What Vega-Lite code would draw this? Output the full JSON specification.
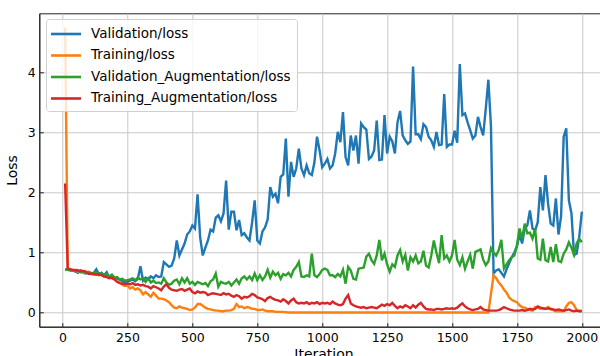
{
  "$schema": "https://vega.github.io/schema/vega-lite/v6.json",
  "autosize": "none",
  "padding": {"left": 39.3, "top": 13.3, "right": 0, "bottom": 40},
  "width": 568.4,
  "height": 313.4,
  "background": "white",
  "config": {
    "font": "DejaVu Sans",
    "view": {"stroke": "#222", "strokeWidth": 1},
    "axis": {
      "gridColor": "#c8c8c8", "gridWidth": 1, "gridOpacity": 1,
      "domainColor": "#222", "domainWidth": 1,
      "tickColor": "#222", "tickSize": -4, "tickWidth": 1,
      "labelColor": "#000", "labelFontSize": 12.5, "labelFont": "DejaVu Sans",
      "titleColor": "#000", "titleFontSize": 14, "titleFontWeight": "normal", "titleFont": "DejaVu Sans"
    }
  },
  "data": {"values": [
    {"it":10,"Validation/loss":0.72,"Training/loss":4.75,"Validation_Augmentation/loss":0.71,"Training_Augmentation/loss":2.15},
    {"it":20,"Validation/loss":0.71,"Training/loss":0.72,"Validation_Augmentation/loss":0.72,"Training_Augmentation/loss":0.73},
    {"it":30,"Validation/loss":0.70,"Training/loss":0.71,"Validation_Augmentation/loss":0.71,"Training_Augmentation/loss":0.72},
    {"it":40,"Validation/loss":0.70,"Training/loss":0.70,"Validation_Augmentation/loss":0.70,"Training_Augmentation/loss":0.71},
    {"it":50,"Validation/loss":0.68,"Training/loss":0.70,"Validation_Augmentation/loss":0.69,"Training_Augmentation/loss":0.71},
    {"it":60,"Validation/loss":0.66,"Training/loss":0.68,"Validation_Augmentation/loss":0.70,"Training_Augmentation/loss":0.70},
    {"it":70,"Validation/loss":0.70,"Training/loss":0.69,"Validation_Augmentation/loss":0.67,"Training_Augmentation/loss":0.69},
    {"it":80,"Validation/loss":0.66,"Training/loss":0.67,"Validation_Augmentation/loss":0.69,"Training_Augmentation/loss":0.69},
    {"it":90,"Validation/loss":0.65,"Training/loss":0.66,"Validation_Augmentation/loss":0.66,"Training_Augmentation/loss":0.68},
    {"it":100,"Validation/loss":0.67,"Training/loss":0.68,"Validation_Augmentation/loss":0.67,"Training_Augmentation/loss":0.64},
    {"it":110,"Validation/loss":0.64,"Training/loss":0.65,"Validation_Augmentation/loss":0.66,"Training_Augmentation/loss":0.65},
    {"it":120,"Validation/loss":0.66,"Training/loss":0.63,"Validation_Augmentation/loss":0.65,"Training_Augmentation/loss":0.64},
    {"it":130,"Validation/loss":0.72,"Training/loss":0.66,"Validation_Augmentation/loss":0.67,"Training_Augmentation/loss":0.63},
    {"it":140,"Validation/loss":0.64,"Training/loss":0.62,"Validation_Augmentation/loss":0.63,"Training_Augmentation/loss":0.64},
    {"it":150,"Validation/loss":0.66,"Training/loss":0.64,"Validation_Augmentation/loss":0.66,"Training_Augmentation/loss":0.62},
    {"it":160,"Validation/loss":0.62,"Training/loss":0.60,"Validation_Augmentation/loss":0.61,"Training_Augmentation/loss":0.60},
    {"it":170,"Validation/loss":0.67,"Training/loss":0.62,"Validation_Augmentation/loss":0.64,"Training_Augmentation/loss":0.59},
    {"it":180,"Validation/loss":0.58,"Training/loss":0.58,"Validation_Augmentation/loss":0.60,"Training_Augmentation/loss":0.57},
    {"it":190,"Validation/loss":0.60,"Training/loss":0.57,"Validation_Augmentation/loss":0.63,"Training_Augmentation/loss":0.58},
    {"it":200,"Validation/loss":0.57,"Training/loss":0.55,"Validation_Augmentation/loss":0.58,"Training_Augmentation/loss":0.55},
    {"it":210,"Validation/loss":0.56,"Training/loss":0.52,"Validation_Augmentation/loss":0.59,"Training_Augmentation/loss":0.51},
    {"it":220,"Validation/loss":0.55,"Training/loss":0.50,"Validation_Augmentation/loss":0.55,"Training_Augmentation/loss":0.49},
    {"it":230,"Validation/loss":0.52,"Training/loss":0.46,"Validation_Augmentation/loss":0.56,"Training_Augmentation/loss":0.48},
    {"it":240,"Validation/loss":0.50,"Training/loss":0.44,"Validation_Augmentation/loss":0.53,"Training_Augmentation/loss":0.47},
    {"it":250,"Validation/loss":0.51,"Training/loss":0.45,"Validation_Augmentation/loss":0.54,"Training_Augmentation/loss":0.48},
    {"it":260,"Validation/loss":0.53,"Training/loss":0.40,"Validation_Augmentation/loss":0.55,"Training_Augmentation/loss":0.47},
    {"it":270,"Validation/loss":0.55,"Training/loss":0.42,"Validation_Augmentation/loss":0.57,"Training_Augmentation/loss":0.49},
    {"it":280,"Validation/loss":0.52,"Training/loss":0.38,"Validation_Augmentation/loss":0.54,"Training_Augmentation/loss":0.46},
    {"it":290,"Validation/loss":0.56,"Training/loss":0.40,"Validation_Augmentation/loss":0.58,"Training_Augmentation/loss":0.47},
    {"it":300,"Validation/loss":0.77,"Training/loss":0.37,"Validation_Augmentation/loss":0.55,"Training_Augmentation/loss":0.45},
    {"it":310,"Validation/loss":0.53,"Training/loss":0.30,"Validation_Augmentation/loss":0.57,"Training_Augmentation/loss":0.46},
    {"it":320,"Validation/loss":0.58,"Training/loss":0.34,"Validation_Augmentation/loss":0.51,"Training_Augmentation/loss":0.44},
    {"it":330,"Validation/loss":0.55,"Training/loss":0.30,"Validation_Augmentation/loss":0.57,"Training_Augmentation/loss":0.43},
    {"it":340,"Validation/loss":0.60,"Training/loss":0.26,"Validation_Augmentation/loss":0.50,"Training_Augmentation/loss":0.40},
    {"it":350,"Validation/loss":0.57,"Training/loss":0.33,"Validation_Augmentation/loss":0.53,"Training_Augmentation/loss":0.44},
    {"it":360,"Validation/loss":0.62,"Training/loss":0.28,"Validation_Augmentation/loss":0.49,"Training_Augmentation/loss":0.42},
    {"it":370,"Validation/loss":0.59,"Training/loss":0.23,"Validation_Augmentation/loss":0.50,"Training_Augmentation/loss":0.40},
    {"it":380,"Validation/loss":0.60,"Training/loss":0.23,"Validation_Augmentation/loss":0.48,"Training_Augmentation/loss":0.37},
    {"it":390,"Validation/loss":0.84,"Training/loss":0.22,"Validation_Augmentation/loss":0.57,"Training_Augmentation/loss":0.43},
    {"it":400,"Validation/loss":0.80,"Training/loss":0.20,"Validation_Augmentation/loss":0.50,"Training_Augmentation/loss":0.47},
    {"it":410,"Validation/loss":0.76,"Training/loss":0.17,"Validation_Augmentation/loss":0.46,"Training_Augmentation/loss":0.41},
    {"it":420,"Validation/loss":0.78,"Training/loss":0.12,"Validation_Augmentation/loss":0.48,"Training_Augmentation/loss":0.38},
    {"it":430,"Validation/loss":0.90,"Training/loss":0.08,"Validation_Augmentation/loss":0.53,"Training_Augmentation/loss":0.37},
    {"it":440,"Validation/loss":1.20,"Training/loss":0.07,"Validation_Augmentation/loss":0.55,"Training_Augmentation/loss":0.36},
    {"it":450,"Validation/loss":0.95,"Training/loss":0.10,"Validation_Augmentation/loss":0.47,"Training_Augmentation/loss":0.38},
    {"it":460,"Validation/loss":1.05,"Training/loss":0.08,"Validation_Augmentation/loss":0.57,"Training_Augmentation/loss":0.39},
    {"it":470,"Validation/loss":1.15,"Training/loss":0.07,"Validation_Augmentation/loss":0.50,"Training_Augmentation/loss":0.36},
    {"it":480,"Validation/loss":1.30,"Training/loss":0.06,"Validation_Augmentation/loss":0.57,"Training_Augmentation/loss":0.38},
    {"it":490,"Validation/loss":1.35,"Training/loss":0.04,"Validation_Augmentation/loss":0.48,"Training_Augmentation/loss":0.40},
    {"it":500,"Validation/loss":1.45,"Training/loss":0.05,"Validation_Augmentation/loss":0.51,"Training_Augmentation/loss":0.34},
    {"it":510,"Validation/loss":1.40,"Training/loss":0.08,"Validation_Augmentation/loss":0.46,"Training_Augmentation/loss":0.32},
    {"it":520,"Validation/loss":1.97,"Training/loss":0.14,"Validation_Augmentation/loss":0.51,"Training_Augmentation/loss":0.35},
    {"it":530,"Validation/loss":1.25,"Training/loss":0.14,"Validation_Augmentation/loss":0.49,"Training_Augmentation/loss":0.33},
    {"it":540,"Validation/loss":0.95,"Training/loss":0.11,"Validation_Augmentation/loss":0.47,"Training_Augmentation/loss":0.34},
    {"it":550,"Validation/loss":1.08,"Training/loss":0.08,"Validation_Augmentation/loss":0.49,"Training_Augmentation/loss":0.33},
    {"it":560,"Validation/loss":1.20,"Training/loss":0.06,"Validation_Augmentation/loss":0.44,"Training_Augmentation/loss":0.29},
    {"it":570,"Validation/loss":1.38,"Training/loss":0.05,"Validation_Augmentation/loss":0.52,"Training_Augmentation/loss":0.31},
    {"it":580,"Validation/loss":1.35,"Training/loss":0.04,"Validation_Augmentation/loss":0.55,"Training_Augmentation/loss":0.32},
    {"it":590,"Validation/loss":1.58,"Training/loss":0.03,"Validation_Augmentation/loss":0.65,"Training_Augmentation/loss":0.31},
    {"it":600,"Validation/loss":1.62,"Training/loss":0.03,"Validation_Augmentation/loss":0.43,"Training_Augmentation/loss":0.30},
    {"it":610,"Validation/loss":1.52,"Training/loss":0.02,"Validation_Augmentation/loss":0.51,"Training_Augmentation/loss":0.29},
    {"it":620,"Validation/loss":1.65,"Training/loss":0.02,"Validation_Augmentation/loss":0.49,"Training_Augmentation/loss":0.32},
    {"it":630,"Validation/loss":2.20,"Training/loss":0.03,"Validation_Augmentation/loss":0.48,"Training_Augmentation/loss":0.30},
    {"it":640,"Validation/loss":1.38,"Training/loss":0.03,"Validation_Augmentation/loss":0.51,"Training_Augmentation/loss":0.31},
    {"it":650,"Validation/loss":1.68,"Training/loss":0.04,"Validation_Augmentation/loss":0.45,"Training_Augmentation/loss":0.28},
    {"it":660,"Validation/loss":1.68,"Training/loss":0.06,"Validation_Augmentation/loss":0.50,"Training_Augmentation/loss":0.26},
    {"it":670,"Validation/loss":1.37,"Training/loss":0.14,"Validation_Augmentation/loss":0.55,"Training_Augmentation/loss":0.29},
    {"it":680,"Validation/loss":1.54,"Training/loss":0.09,"Validation_Augmentation/loss":0.48,"Training_Augmentation/loss":0.27},
    {"it":690,"Validation/loss":1.29,"Training/loss":0.10,"Validation_Augmentation/loss":0.57,"Training_Augmentation/loss":0.23},
    {"it":700,"Validation/loss":1.32,"Training/loss":0.07,"Validation_Augmentation/loss":0.60,"Training_Augmentation/loss":0.26},
    {"it":710,"Validation/loss":1.25,"Training/loss":0.09,"Validation_Augmentation/loss":0.55,"Training_Augmentation/loss":0.25},
    {"it":720,"Validation/loss":1.20,"Training/loss":0.08,"Validation_Augmentation/loss":0.60,"Training_Augmentation/loss":0.27},
    {"it":730,"Validation/loss":1.50,"Training/loss":0.06,"Validation_Augmentation/loss":0.54,"Training_Augmentation/loss":0.31},
    {"it":740,"Validation/loss":1.87,"Training/loss":0.06,"Validation_Augmentation/loss":0.65,"Training_Augmentation/loss":0.29},
    {"it":750,"Validation/loss":1.20,"Training/loss":0.04,"Validation_Augmentation/loss":0.54,"Training_Augmentation/loss":0.25},
    {"it":760,"Validation/loss":1.15,"Training/loss":0.04,"Validation_Augmentation/loss":0.62,"Training_Augmentation/loss":0.24},
    {"it":770,"Validation/loss":1.35,"Training/loss":0.05,"Validation_Augmentation/loss":0.54,"Training_Augmentation/loss":0.22},
    {"it":780,"Validation/loss":1.42,"Training/loss":0.03,"Validation_Augmentation/loss":0.60,"Training_Augmentation/loss":0.19},
    {"it":790,"Validation/loss":1.55,"Training/loss":0.02,"Validation_Augmentation/loss":0.71,"Training_Augmentation/loss":0.24},
    {"it":800,"Validation/loss":2.09,"Training/loss":0.02,"Validation_Augmentation/loss":0.58,"Training_Augmentation/loss":0.26},
    {"it":810,"Validation/loss":1.93,"Training/loss":0.02,"Validation_Augmentation/loss":0.68,"Training_Augmentation/loss":0.23},
    {"it":820,"Validation/loss":1.98,"Training/loss":0.01,"Validation_Augmentation/loss":0.62,"Training_Augmentation/loss":0.21},
    {"it":830,"Validation/loss":1.82,"Training/loss":0.01,"Validation_Augmentation/loss":0.66,"Training_Augmentation/loss":0.20},
    {"it":840,"Validation/loss":2.26,"Training/loss":0.01,"Validation_Augmentation/loss":0.56,"Training_Augmentation/loss":0.18},
    {"it":850,"Validation/loss":2.30,"Training/loss":0.01,"Validation_Augmentation/loss":0.64,"Training_Augmentation/loss":0.22},
    {"it":860,"Validation/loss":2.90,"Training/loss":0.005,"Validation_Augmentation/loss":0.62,"Training_Augmentation/loss":0.19},
    {"it":870,"Validation/loss":1.93,"Training/loss":0.0,"Validation_Augmentation/loss":0.66,"Training_Augmentation/loss":0.15},
    {"it":880,"Validation/loss":2.51,"Training/loss":0.0,"Validation_Augmentation/loss":0.60,"Training_Augmentation/loss":0.20},
    {"it":890,"Validation/loss":2.26,"Training/loss":0.0,"Validation_Augmentation/loss":0.71,"Training_Augmentation/loss":0.23},
    {"it":900,"Validation/loss":2.40,"Training/loss":0.0,"Validation_Augmentation/loss":0.76,"Training_Augmentation/loss":0.17},
    {"it":910,"Validation/loss":2.73,"Training/loss":0.0,"Validation_Augmentation/loss":0.84,"Training_Augmentation/loss":0.15},
    {"it":920,"Validation/loss":2.40,"Training/loss":0.0,"Validation_Augmentation/loss":0.60,"Training_Augmentation/loss":0.16},
    {"it":930,"Validation/loss":2.29,"Training/loss":0.0,"Validation_Augmentation/loss":0.59,"Training_Augmentation/loss":0.15},
    {"it":940,"Validation/loss":2.45,"Training/loss":0.0,"Validation_Augmentation/loss":0.62,"Training_Augmentation/loss":0.17},
    {"it":950,"Validation/loss":2.32,"Training/loss":0.0,"Validation_Augmentation/loss":0.60,"Training_Augmentation/loss":0.14},
    {"it":960,"Validation/loss":2.29,"Training/loss":0.0,"Validation_Augmentation/loss":0.98,"Training_Augmentation/loss":0.16},
    {"it":970,"Validation/loss":2.50,"Training/loss":0.0,"Validation_Augmentation/loss":0.62,"Training_Augmentation/loss":0.15},
    {"it":980,"Validation/loss":2.93,"Training/loss":0.0,"Validation_Augmentation/loss":0.59,"Training_Augmentation/loss":0.17},
    {"it":990,"Validation/loss":2.70,"Training/loss":0.0,"Validation_Augmentation/loss":0.64,"Training_Augmentation/loss":0.14},
    {"it":1000,"Validation/loss":2.42,"Training/loss":0.0,"Validation_Augmentation/loss":0.71,"Training_Augmentation/loss":0.16},
    {"it":1010,"Validation/loss":2.48,"Training/loss":0.0,"Validation_Augmentation/loss":0.73,"Training_Augmentation/loss":0.15},
    {"it":1020,"Validation/loss":2.56,"Training/loss":0.0,"Validation_Augmentation/loss":0.71,"Training_Augmentation/loss":0.16},
    {"it":1030,"Validation/loss":2.40,"Training/loss":0.0,"Validation_Augmentation/loss":0.62,"Training_Augmentation/loss":0.14},
    {"it":1040,"Validation/loss":2.45,"Training/loss":0.0,"Validation_Augmentation/loss":0.62,"Training_Augmentation/loss":0.18},
    {"it":1050,"Validation/loss":2.65,"Training/loss":0.0,"Validation_Augmentation/loss":0.59,"Training_Augmentation/loss":0.15},
    {"it":1060,"Validation/loss":3.01,"Training/loss":0.0,"Validation_Augmentation/loss":0.64,"Training_Augmentation/loss":0.13},
    {"it":1070,"Validation/loss":2.84,"Training/loss":0.0,"Validation_Augmentation/loss":0.60,"Training_Augmentation/loss":0.12},
    {"it":1080,"Validation/loss":3.34,"Training/loss":0.0,"Validation_Augmentation/loss":0.71,"Training_Augmentation/loss":0.14},
    {"it":1090,"Validation/loss":2.59,"Training/loss":0.0,"Validation_Augmentation/loss":0.48,"Training_Augmentation/loss":0.23},
    {"it":1100,"Validation/loss":2.45,"Training/loss":0.0,"Validation_Augmentation/loss":0.76,"Training_Augmentation/loss":0.29},
    {"it":1110,"Validation/loss":2.95,"Training/loss":0.0,"Validation_Augmentation/loss":0.70,"Training_Augmentation/loss":0.15},
    {"it":1120,"Validation/loss":2.70,"Training/loss":0.0,"Validation_Augmentation/loss":0.56,"Training_Augmentation/loss":0.12},
    {"it":1130,"Validation/loss":2.95,"Training/loss":0.0,"Validation_Augmentation/loss":0.55,"Training_Augmentation/loss":0.10},
    {"it":1140,"Validation/loss":2.48,"Training/loss":0.0,"Validation_Augmentation/loss":0.73,"Training_Augmentation/loss":0.09},
    {"it":1150,"Validation/loss":3.15,"Training/loss":0.0,"Validation_Augmentation/loss":0.74,"Training_Augmentation/loss":0.08},
    {"it":1160,"Validation/loss":3.09,"Training/loss":0.0,"Validation_Augmentation/loss":0.75,"Training_Augmentation/loss":0.09},
    {"it":1170,"Validation/loss":3.05,"Training/loss":0.0,"Validation_Augmentation/loss":0.93,"Training_Augmentation/loss":0.07},
    {"it":1180,"Validation/loss":2.56,"Training/loss":0.0,"Validation_Augmentation/loss":0.98,"Training_Augmentation/loss":0.08},
    {"it":1190,"Validation/loss":2.60,"Training/loss":0.0,"Validation_Augmentation/loss":0.87,"Training_Augmentation/loss":0.09},
    {"it":1200,"Validation/loss":2.70,"Training/loss":0.0,"Validation_Augmentation/loss":0.81,"Training_Augmentation/loss":0.08},
    {"it":1210,"Validation/loss":3.20,"Training/loss":0.0,"Validation_Augmentation/loss":0.95,"Training_Augmentation/loss":0.07},
    {"it":1220,"Validation/loss":2.54,"Training/loss":0.0,"Validation_Augmentation/loss":1.21,"Training_Augmentation/loss":0.10},
    {"it":1230,"Validation/loss":2.55,"Training/loss":0.0,"Validation_Augmentation/loss":0.87,"Training_Augmentation/loss":0.13},
    {"it":1240,"Validation/loss":3.29,"Training/loss":0.0,"Validation_Augmentation/loss":0.98,"Training_Augmentation/loss":0.11},
    {"it":1250,"Validation/loss":2.65,"Training/loss":0.0,"Validation_Augmentation/loss":0.80,"Training_Augmentation/loss":0.14},
    {"it":1260,"Validation/loss":2.93,"Training/loss":0.0,"Validation_Augmentation/loss":0.68,"Training_Augmentation/loss":0.12},
    {"it":1270,"Validation/loss":2.85,"Training/loss":0.0,"Validation_Augmentation/loss":0.80,"Training_Augmentation/loss":0.16},
    {"it":1280,"Validation/loss":2.65,"Training/loss":0.0,"Validation_Augmentation/loss":0.76,"Training_Augmentation/loss":0.11},
    {"it":1290,"Validation/loss":3.17,"Training/loss":0.0,"Validation_Augmentation/loss":0.95,"Training_Augmentation/loss":0.07},
    {"it":1300,"Validation/loss":3.36,"Training/loss":0.0,"Validation_Augmentation/loss":1.04,"Training_Augmentation/loss":0.10},
    {"it":1310,"Validation/loss":2.95,"Training/loss":0.0,"Validation_Augmentation/loss":0.85,"Training_Augmentation/loss":0.08},
    {"it":1320,"Validation/loss":2.87,"Training/loss":0.0,"Validation_Augmentation/loss":0.96,"Training_Augmentation/loss":0.12},
    {"it":1330,"Validation/loss":2.81,"Training/loss":0.0,"Validation_Augmentation/loss":0.70,"Training_Augmentation/loss":0.10},
    {"it":1340,"Validation/loss":2.85,"Training/loss":0.0,"Validation_Augmentation/loss":0.92,"Training_Augmentation/loss":0.07},
    {"it":1350,"Validation/loss":4.10,"Training/loss":0.0,"Validation_Augmentation/loss":0.85,"Training_Augmentation/loss":0.12},
    {"it":1360,"Validation/loss":2.97,"Training/loss":0.0,"Validation_Augmentation/loss":0.95,"Training_Augmentation/loss":0.08},
    {"it":1370,"Validation/loss":2.97,"Training/loss":0.0,"Validation_Augmentation/loss":0.82,"Training_Augmentation/loss":0.13},
    {"it":1380,"Validation/loss":2.89,"Training/loss":0.0,"Validation_Augmentation/loss":0.85,"Training_Augmentation/loss":0.16},
    {"it":1390,"Validation/loss":3.14,"Training/loss":0.0,"Validation_Augmentation/loss":1.03,"Training_Augmentation/loss":0.10},
    {"it":1400,"Validation/loss":3.09,"Training/loss":0.0,"Validation_Augmentation/loss":0.78,"Training_Augmentation/loss":0.06},
    {"it":1410,"Validation/loss":2.93,"Training/loss":0.0,"Validation_Augmentation/loss":0.75,"Training_Augmentation/loss":0.05},
    {"it":1420,"Validation/loss":2.87,"Training/loss":0.0,"Validation_Augmentation/loss":0.95,"Training_Augmentation/loss":0.05},
    {"it":1430,"Validation/loss":2.76,"Training/loss":0.0,"Validation_Augmentation/loss":1.20,"Training_Augmentation/loss":0.04},
    {"it":1440,"Validation/loss":3.01,"Training/loss":0.0,"Validation_Augmentation/loss":1.00,"Training_Augmentation/loss":0.06},
    {"it":1450,"Validation/loss":2.79,"Training/loss":0.0,"Validation_Augmentation/loss":0.82,"Training_Augmentation/loss":0.06},
    {"it":1460,"Validation/loss":2.80,"Training/loss":0.0,"Validation_Augmentation/loss":1.29,"Training_Augmentation/loss":0.05},
    {"it":1470,"Validation/loss":3.64,"Training/loss":0.0,"Validation_Augmentation/loss":0.90,"Training_Augmentation/loss":0.06},
    {"it":1480,"Validation/loss":2.76,"Training/loss":0.0,"Validation_Augmentation/loss":0.95,"Training_Augmentation/loss":0.07},
    {"it":1490,"Validation/loss":2.80,"Training/loss":0.0,"Validation_Augmentation/loss":0.85,"Training_Augmentation/loss":0.06},
    {"it":1500,"Validation/loss":2.80,"Training/loss":0.0,"Validation_Augmentation/loss":0.95,"Training_Augmentation/loss":0.07},
    {"it":1510,"Validation/loss":3.03,"Training/loss":0.0,"Validation_Augmentation/loss":1.21,"Training_Augmentation/loss":0.06},
    {"it":1520,"Validation/loss":2.83,"Training/loss":0.0,"Validation_Augmentation/loss":0.88,"Training_Augmentation/loss":0.08},
    {"it":1530,"Validation/loss":4.14,"Training/loss":0.0,"Validation_Augmentation/loss":0.79,"Training_Augmentation/loss":0.12},
    {"it":1540,"Validation/loss":3.29,"Training/loss":0.0,"Validation_Augmentation/loss":0.92,"Training_Augmentation/loss":0.15},
    {"it":1550,"Validation/loss":3.32,"Training/loss":0.0,"Validation_Augmentation/loss":0.73,"Training_Augmentation/loss":0.10},
    {"it":1560,"Validation/loss":3.17,"Training/loss":0.0,"Validation_Augmentation/loss":0.85,"Training_Augmentation/loss":0.07},
    {"it":1570,"Validation/loss":3.04,"Training/loss":0.0,"Validation_Augmentation/loss":0.96,"Training_Augmentation/loss":0.05},
    {"it":1580,"Validation/loss":2.90,"Training/loss":0.0,"Validation_Augmentation/loss":0.73,"Training_Augmentation/loss":0.04},
    {"it":1590,"Validation/loss":2.95,"Training/loss":0.0,"Validation_Augmentation/loss":1.01,"Training_Augmentation/loss":0.05},
    {"it":1600,"Validation/loss":3.26,"Training/loss":0.0,"Validation_Augmentation/loss":1.03,"Training_Augmentation/loss":0.06},
    {"it":1610,"Validation/loss":3.09,"Training/loss":0.0,"Validation_Augmentation/loss":1.05,"Training_Augmentation/loss":0.09},
    {"it":1620,"Validation/loss":2.95,"Training/loss":0.0,"Validation_Augmentation/loss":0.88,"Training_Augmentation/loss":0.05},
    {"it":1630,"Validation/loss":3.40,"Training/loss":0.0,"Validation_Augmentation/loss":0.79,"Training_Augmentation/loss":0.04},
    {"it":1640,"Validation/loss":3.88,"Training/loss":0.0,"Validation_Augmentation/loss":0.85,"Training_Augmentation/loss":0.03},
    {"it":1650,"Validation/loss":3.10,"Training/loss":0.31,"Validation_Augmentation/loss":1.07,"Training_Augmentation/loss":0.03},
    {"it":1660,"Validation/loss":0.65,"Training/loss":0.62,"Validation_Augmentation/loss":1.00,"Training_Augmentation/loss":0.03},
    {"it":1670,"Validation/loss":0.70,"Training/loss":0.57,"Validation_Augmentation/loss":0.95,"Training_Augmentation/loss":0.03},
    {"it":1680,"Validation/loss":0.72,"Training/loss":0.50,"Validation_Augmentation/loss":1.04,"Training_Augmentation/loss":0.04},
    {"it":1690,"Validation/loss":0.66,"Training/loss":0.45,"Validation_Augmentation/loss":1.21,"Training_Augmentation/loss":0.06},
    {"it":1700,"Validation/loss":0.60,"Training/loss":0.38,"Validation_Augmentation/loss":0.73,"Training_Augmentation/loss":0.09},
    {"it":1710,"Validation/loss":0.72,"Training/loss":0.33,"Validation_Augmentation/loss":0.80,"Training_Augmentation/loss":0.07},
    {"it":1720,"Validation/loss":0.82,"Training/loss":0.25,"Validation_Augmentation/loss":0.87,"Training_Augmentation/loss":0.05},
    {"it":1730,"Validation/loss":0.92,"Training/loss":0.21,"Validation_Augmentation/loss":0.92,"Training_Augmentation/loss":0.04},
    {"it":1740,"Validation/loss":1.00,"Training/loss":0.19,"Validation_Augmentation/loss":0.95,"Training_Augmentation/loss":0.03},
    {"it":1750,"Validation/loss":1.10,"Training/loss":0.17,"Validation_Augmentation/loss":1.12,"Training_Augmentation/loss":0.03},
    {"it":1760,"Validation/loss":1.30,"Training/loss":0.12,"Validation_Augmentation/loss":1.40,"Training_Augmentation/loss":0.03},
    {"it":1770,"Validation/loss":1.15,"Training/loss":0.09,"Validation_Augmentation/loss":1.23,"Training_Augmentation/loss":0.04},
    {"it":1780,"Validation/loss":1.40,"Training/loss":0.08,"Validation_Augmentation/loss":1.48,"Training_Augmentation/loss":0.03},
    {"it":1790,"Validation/loss":1.45,"Training/loss":0.06,"Validation_Augmentation/loss":1.32,"Training_Augmentation/loss":0.04},
    {"it":1800,"Validation/loss":1.70,"Training/loss":0.04,"Validation_Augmentation/loss":1.33,"Training_Augmentation/loss":0.06},
    {"it":1810,"Validation/loss":1.40,"Training/loss":0.03,"Validation_Augmentation/loss":1.23,"Training_Augmentation/loss":0.05},
    {"it":1820,"Validation/loss":1.37,"Training/loss":0.09,"Validation_Augmentation/loss":1.40,"Training_Augmentation/loss":0.06},
    {"it":1830,"Validation/loss":1.50,"Training/loss":0.08,"Validation_Augmentation/loss":0.90,"Training_Augmentation/loss":0.10},
    {"it":1840,"Validation/loss":2.09,"Training/loss":0.06,"Validation_Augmentation/loss":0.88,"Training_Augmentation/loss":0.08},
    {"it":1850,"Validation/loss":1.70,"Training/loss":0.07,"Validation_Augmentation/loss":1.23,"Training_Augmentation/loss":0.07},
    {"it":1860,"Validation/loss":2.29,"Training/loss":0.06,"Validation_Augmentation/loss":0.87,"Training_Augmentation/loss":0.06},
    {"it":1870,"Validation/loss":1.81,"Training/loss":0.09,"Validation_Augmentation/loss":0.85,"Training_Augmentation/loss":0.07},
    {"it":1880,"Validation/loss":1.48,"Training/loss":0.05,"Validation_Augmentation/loss":1.09,"Training_Augmentation/loss":0.06},
    {"it":1890,"Validation/loss":1.45,"Training/loss":0.04,"Validation_Augmentation/loss":0.84,"Training_Augmentation/loss":0.05},
    {"it":1900,"Validation/loss":1.90,"Training/loss":0.02,"Validation_Augmentation/loss":1.14,"Training_Augmentation/loss":0.04},
    {"it":1910,"Validation/loss":1.30,"Training/loss":0.02,"Validation_Augmentation/loss":0.86,"Training_Augmentation/loss":0.05},
    {"it":1920,"Validation/loss":1.60,"Training/loss":0.02,"Validation_Augmentation/loss":0.84,"Training_Augmentation/loss":0.04},
    {"it":1930,"Validation/loss":2.93,"Training/loss":0.02,"Validation_Augmentation/loss":0.98,"Training_Augmentation/loss":0.03},
    {"it":1940,"Validation/loss":3.07,"Training/loss":0.10,"Validation_Augmentation/loss":1.05,"Training_Augmentation/loss":0.04},
    {"it":1950,"Validation/loss":1.87,"Training/loss":0.16,"Validation_Augmentation/loss":1.17,"Training_Augmentation/loss":0.05},
    {"it":1960,"Validation/loss":1.65,"Training/loss":0.17,"Validation_Augmentation/loss":1.08,"Training_Augmentation/loss":0.03},
    {"it":1970,"Validation/loss":0.96,"Training/loss":0.12,"Validation_Augmentation/loss":0.96,"Training_Augmentation/loss":0.02},
    {"it":1980,"Validation/loss":0.98,"Training/loss":0.04,"Validation_Augmentation/loss":1.15,"Training_Augmentation/loss":0.03},
    {"it":1990,"Validation/loss":1.26,"Training/loss":0.03,"Validation_Augmentation/loss":1.23,"Training_Augmentation/loss":0.02},
    {"it":2000,"Validation/loss":1.68,"Training/loss":0.03,"Validation_Augmentation/loss":1.17,"Training_Augmentation/loss":0.02}
  ]},
  "transform": [
    {"fold": ["Validation/loss", "Training/loss", "Validation_Augmentation/loss", "Training_Augmentation/loss"], "as": ["series", "loss"]}
  ],
  "mark": {"type": "line", "strokeWidth": 2.4, "clip": true},
  "encoding": {
    "x": {
      "field": "it", "type": "quantitative", "title": "Iteration",
      "scale": {"domain": [-89.5, 2099.5], "nice": false, "zero": false},
      "axis": {"values": [0, 250, 500, 750, 1000, 1250, 1500, 1750, 2000], "format": "d", "labelPadding": 8.5, "titlePadding": 4, "grid": true}
    },
    "y": {
      "field": "loss", "type": "quantitative", "title": "Loss",
      "scale": {"domain": [-0.2375, 4.9875], "nice": false, "zero": false},
      "axis": {"values": [0, 1, 2, 3, 4], "format": "d", "labelPadding": 8, "titlePadding": 8, "grid": true}
    },
    "color": {
      "field": "series", "type": "nominal",
      "scale": {
        "domain": ["Validation/loss", "Training/loss", "Validation_Augmentation/loss", "Training_Augmentation/loss"],
        "range": ["#1f77b4", "#ff7f0e", "#2ca02c", "#d62728"]
      },
      "legend": {
        "title": null, "orient": "none", "legendX": 6.7, "legendY": 5.7,
        "fillColor": "rgba(255,255,255,0.8)", "strokeColor": "#d0d0d0", "cornerRadius": 3,
        "padding": 6, "symbolType": "M-1.33,0L2.67,0", "symbolSize": 225,
        "symbolStrokeWidth": 2.6, "symbolFillColor": "transparent",
        "labelOffset": 21, "labelFontSize": 13.5, "labelFont": "DejaVu Sans", "labelColor": "#000",
        "rowPadding": 5.5, "labelLimit": 400
      }
    }
  }
}
